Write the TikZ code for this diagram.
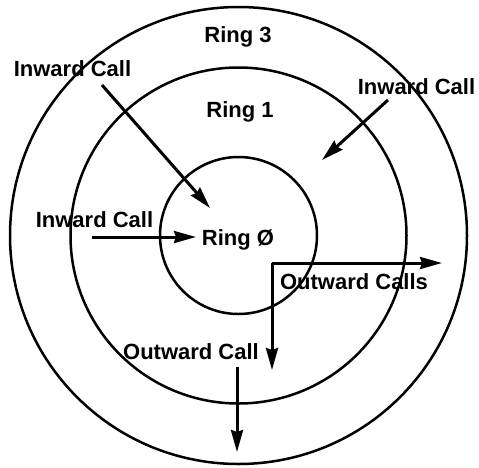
\documentclass[tikz,border=0pt]{standalone}
\usepackage{fontspec}
\setmainfont{Liberation Sans}
\usetikzlibrary{arrows.meta}
\begin{document}
\begin{tikzpicture}[x=1pt,y=-1pt,
  ring/.style={draw, line width=2.5pt},
  lbl/.style={font=\fontsize{22}{24}\selectfont\bfseries, inner sep=0pt},
  call/.style={line width=3pt, -{Stealth[length=22pt,width=12pt,inset=2pt]}}]
\useasboundingbox (0,0) rectangle (479,467);
\coordinate (c) at (238.5,235.5);
\draw[ring] (c) circle[radius=228.5];
\draw[ring] (c) circle[radius=168];
\draw[ring] (c) circle[radius=78.5];
\node[lbl] (r3) at (238,37) {Ring 3};
\node[lbl] (r1) at (240,112) {Ring 1};
\node[lbl] (r0) at (238,240) {Ring Ø};
\node[lbl] (ic1) at (72.5,69) {Inward Call};
\node[lbl] (ic2) at (416.5,87) {Inward Call};
\node[lbl] (ic3) at (94.5,220) {Inward Call};
\node[lbl] (ocs) at (354,282) {Outward Calls};
\node[lbl] (oc) at (191,352) {Outward Call};
\coordinate (a1s) at (102,85);
\coordinate (a1e) at (210,208);
\coordinate (a2s) at (388,100);
\coordinate (a2e) at (322,160);
\coordinate (a3s) at (92,237);
\coordinate (a3e) at (196,237);
\coordinate (corner) at (272,263);
\coordinate (a4e) at (442,263);
\coordinate (a5e) at (272,370);
\coordinate (a6s) at (237,367);
\coordinate (a6e) at (237,452);
\draw[call] (a1s) -- (a1e);
\draw[call] (a2s) -- (a2e);
\draw[call] (a3s) -- (a3e);
\draw[call] (corner) -- (a4e);
\draw[call] (corner) -- (a5e);
\draw[call] (a6s) -- (a6e);
\end{tikzpicture}
\end{document}
